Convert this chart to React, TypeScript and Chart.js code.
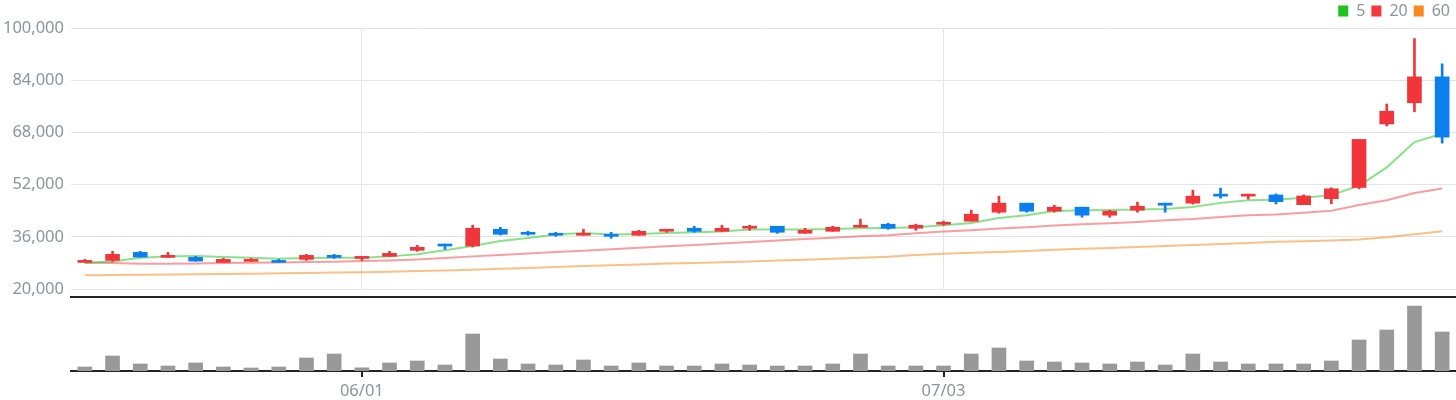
import React, { useEffect, useRef } from 'react';
import { Chart, registerables } from 'chart.js';

Chart.register(...registerables);

// ---------- data ----------
const dates = [
  '05/17', '05/18', '05/19', '05/22', '05/23', '05/24', '05/25', '05/26', '05/30', '05/31',
  '06/01', '06/02', '06/05', '06/07', '06/08', '06/09', '06/12', '06/13', '06/14', '06/15',
  '06/16', '06/19', '06/20', '06/21', '06/22', '06/23', '06/26', '06/27', '06/28', '06/29',
  '06/30', '07/03', '07/04', '07/05', '07/06', '07/07', '07/10', '07/11', '07/12', '07/13',
  '07/14', '07/17', '07/18', '07/19', '07/20', '07/21', '07/24', '07/25', '07/26', '07/27',
];

const opens = [
  28150, 28770, 31230, 29690, 29690, 28150, 28460, 28770, 29080, 30310,
  29380, 30000, 31850, 33770, 33170, 38310, 37390, 37080, 36460, 36770,
  36460, 37690, 38620, 37690, 38620, 39230, 37080, 37690, 38920, 39850,
  38620, 39850, 40770, 43540, 46310, 43850, 45080, 42620, 44150, 46310,
  46310, 49080, 48460, 48830, 45850, 47690, 51110, 70590, 77080, 85020,
];
const highs = [
  29080, 31540, 31540, 31230, 30000, 29380, 29380, 29080, 30620, 30620,
  30000, 31540, 33390, 33770, 39540, 38920, 37690, 37390, 38310, 37390,
  38000, 38310, 39230, 39540, 39540, 39230, 38620, 39230, 41390, 40150,
  39850, 40770, 44150, 48460, 46310, 45690, 45080, 44150, 46620, 46310,
  50310, 50920, 49080, 49140, 48830, 51020, 65850, 76680, 96770, 89020,
];
const lows = [
  28150, 28460, 29790, 29690, 28550, 28150, 28460, 28150, 28770, 29380,
  28770, 30000, 31540, 32150, 32860, 36550, 36460, 36150, 36460, 35540,
  36460, 37390, 37390, 37690, 38000, 37080, 37080, 37690, 38920, 38310,
  38000, 39540, 40770, 43230, 43540, 43540, 42000, 42000, 43540, 43540,
  46000, 47850, 47540, 46060, 45850, 46150, 50710, 69970, 74310, 64710,
];
const closes = [
  28770, 30620, 29790, 30310, 28550, 29080, 29080, 28150, 30310, 29690,
  30000, 30920, 32770, 33170, 38620, 36770, 36770, 36460, 37080, 36150,
  37690, 38310, 37690, 38620, 39230, 37390, 38000, 38920, 39540, 38620,
  39540, 40460, 42920, 46310, 43850, 45080, 42620, 43850, 45380, 45690,
  48460, 48460, 49080, 46770, 48520, 50710, 65850, 74490, 85020, 66550,
];

const ma5 = [
  27940, 28460, 29600, 30000, 30090, 29790, 29600, 29290, 29480, 29600,
  29600, 30000, 30620, 31850, 33170, 34710, 35630, 36680, 37170, 36680,
  36860, 37170, 37390, 37600, 38220, 38220, 38220, 38400, 38620, 38710,
  38920, 39540, 40250, 41790, 42620, 43940, 44150, 44250, 44370, 44550,
  45170, 46400, 47230, 47390, 48000, 48770, 51630, 57290, 65020, 67600,
];
const ma20 = [
  28150, 27940, 27750, 27750, 27850, 27940, 28060, 28150, 28250, 28370,
  28550, 28770, 29080, 29480, 30000, 30430, 30860, 31320, 31750, 32190,
  32620, 33080, 33510, 33940, 34400, 34830, 35290, 35720, 36150, 36460,
  37080, 37600, 38000, 38520, 38920, 39450, 39850, 40150, 40550, 41080,
  41480, 42090, 42620, 42860, 43390, 44000, 45750, 47200, 49450, 50800,
];
const ma60 = [
  24250, 24280, 24370, 24460, 24520, 24620, 24710, 24800, 24920, 25020,
  25140, 25290, 25480, 25690, 25910, 26220, 26460, 26710, 27020, 27290,
  27540, 27780, 28000, 28220, 28460, 28710, 28980, 29290, 29600, 29910,
  30400, 30830, 31140, 31320, 31630, 32060, 32370, 32550, 32860, 33170,
  33480, 33780, 34090, 34520, 34620, 34860, 35170, 35850, 36770, 37690,
];

const volumes = [
  120000, 450000, 210000, 150000, 240000, 120000, 90000, 120000, 390000, 510000,
  95000, 240000, 300000, 180000, 1110000, 360000, 210000, 180000, 330000, 150000,
  240000, 150000, 150000, 210000, 180000, 150000, 150000, 210000, 510000, 150000,
  150000, 150000, 510000, 690000, 300000, 270000, 240000, 210000, 270000, 180000,
  510000, 270000, 210000, 210000, 210000, 300000, 930000, 1230000, 1950000, 1170000,
];

const yTicks = [20000, 36000, 52000, 68000, 84000, 100000];
const xTickLabels = ['06/01', '07/03'];
const maLabels = ['5', '20', '60'];
const volumeMax = 2220000;

// ---------- styles ----------
const UP = '#f0353b';
const DOWN = '#0b7ef0';
const LEGEND_COLORS = ['#1ec31e', '#f2383d', '#f68a1e'];
const LINE_COLORS = ['rgba(40,200,40,0.55)', 'rgba(245,60,65,0.5)', 'rgba(247,140,35,0.55)'];
const TEXT = '#8c949e';
const GRID = '#e4e4e4';
const AXIS = '#222222';
const VOL = '#999999';
const FONT = "'Noto Sans', sans-serif";
const Y_AXIS_WIDTH = 71;

const legendHeight = (h: number) => ({
  id: 'legendHeight',
  beforeLayout(chart: any) {
    const lg = chart.legend;
    if (lg && !lg.__patched) {
      const orig = lg.fit;
      lg.fit = function () {
        orig.call(this);
        this.height = h;
      };
      lg.__patched = true;
    }
  },
});

const keepXTicks = (s: any) => {
  s.ticks = s.ticks.filter((t: any) => xTickLabels.includes(dates[t.value]));
};

export default function App() {
  const priceRef = useRef<HTMLCanvasElement>(null);
  const volRef = useRef<HTMLCanvasElement>(null);

  useEffect(() => {
    Chart.defaults.font.family = FONT;
    const candleColors = closes.map((c, i) => (c >= opens[i] ? UP : DOWN));

    const price = new Chart(priceRef.current as HTMLCanvasElement, {
      type: 'bar',
      data: {
        labels: dates,
        datasets: [
          {
            type: 'bar',
            label: 'body',
            data: opens.map((o, i) => [o, closes[i]]),
            backgroundColor: candleColors,
            barThickness: 14,
            grouped: false,
            minBarLength: 2,
            order: 1,
          } as any,
          {
            type: 'bar',
            label: 'wick',
            data: lows.map((l, i) => [l, highs[i]]),
            backgroundColor: candleColors,
            barThickness: 2,
            grouped: false,
            order: 2,
          } as any,
          {
            type: 'line',
            label: maLabels[0],
            data: ma5,
            borderColor: LINE_COLORS[0],
            backgroundColor: LEGEND_COLORS[0],
            borderWidth: 2,
            pointRadius: 0,
            order: 3,
          } as any,
          {
            type: 'line',
            label: maLabels[1],
            data: ma20,
            borderColor: LINE_COLORS[1],
            backgroundColor: LEGEND_COLORS[1],
            borderWidth: 2,
            pointRadius: 0,
            order: 4,
          } as any,
          {
            type: 'line',
            label: maLabels[2],
            data: ma60,
            borderColor: LINE_COLORS[2],
            backgroundColor: LEGEND_COLORS[2],
            borderWidth: 2,
            pointRadius: 0,
            order: 5,
          } as any,
        ],
      },
      options: {
        responsive: false,
        animation: false,
        layout: { padding: { top: -3, left: 0, right: 0, bottom: 0 } },
        plugins: {
          legend: {
            display: true,
            position: 'top',
            align: 'end',
            labels: {
              boxWidth: 10,
              boxHeight: 11,
              padding: 6,
              color: TEXT,
              font: { size: 16, family: FONT },
              generateLabels: () =>
                maLabels.map((t, i) => ({
                  text: t,
                  fillStyle: LEGEND_COLORS[i],
                  strokeStyle: LEGEND_COLORS[i],
                  lineWidth: 0,
                  hidden: false,
                  datasetIndex: i + 2,
                  fontColor: TEXT,
                })),
            },
          },
          tooltip: { enabled: false },
        },
        scales: {
          x: {
            type: 'category',
            offset: true,
            grid: { display: true, offset: false, color: GRID, drawTicks: false, lineWidth: 1 },
            border: { display: false },
            ticks: { display: false, autoSkip: false },
            afterBuildTicks: keepXTicks,
            afterFit: (s: any) => {
              s.height = 11;
            },
          },
          y: {
            min: yTicks[0],
            max: yTicks[yTicks.length - 1],
            afterBuildTicks: (s: any) => {
              s.ticks = yTicks.map((v) => ({ value: v }));
            },
            grid: { color: GRID, drawTicks: false, lineWidth: 1 },
            border: { display: false },
            ticks: {
              color: TEXT,
              font: { size: 16.5, family: FONT },
              padding: 7,
              callback: (v: any) => Number(v).toLocaleString('en-US'),
            },
            afterFit: (s: any) => {
              s.width = Y_AXIS_WIDTH;
              s.paddingTop = 0;
              s.paddingBottom = 0;
            },
          },
        },
      } as any,
      plugins: [legendHeight(31)],
    });

    const vol = new Chart(volRef.current as HTMLCanvasElement, {
      type: 'bar',
      data: {
        labels: dates,
        datasets: [
          {
            label: 'volume',
            data: volumes,
            backgroundColor: VOL,
            barThickness: 14,
            xAxisID: 'x',
            yAxisID: 'y',
          },
        ],
      },
      options: {
        responsive: false,
        animation: false,
        layout: { padding: 0 },
        plugins: { legend: { display: false }, tooltip: { enabled: false } },
        scales: {
          x: {
            type: 'category',
            position: 'bottom',
            offset: true,
            grid: {
              display: true,
              drawOnChartArea: false,
              drawTicks: true,
              tickLength: 6,
              color: AXIS,
              lineWidth: 2,
              offset: false,
            },
            border: { display: true, color: AXIS, width: 2 },
            ticks: {
              color: TEXT,
              font: { size: 16.5, family: FONT },
              padding: 4,
              autoSkip: false,
              maxRotation: 0,
            },
            afterBuildTicks: keepXTicks,
            afterFit: (s: any) => {
              s.height = 29;
            },
          },
          xTop: {
            type: 'category',
            position: 'top',
            labels: dates,
            offset: true,
            grid: { display: true, drawOnChartArea: false, drawTicks: false },
            border: { display: true, color: AXIS, width: 2 },
            ticks: { display: false },
            afterFit: (s: any) => {
              s.height = 7;
            },
          },
          y: {
            min: 0,
            max: volumeMax,
            display: true,
            grid: { display: false },
            border: { display: false },
            ticks: { display: false },
            afterFit: (s: any) => {
              s.width = Y_AXIS_WIDTH;
              s.paddingTop = 0;
              s.paddingBottom = 0;
            },
          },
        },
      } as any,
    });

    return () => {
      price.destroy();
      vol.destroy();
    };
  }, []);

  return (
    <div style={{ position: 'absolute', left: 0, top: 0, width: 1456, height: 400, background: '#ffffff' }}>
      <canvas
        ref={priceRef}
        width={1456}
        height={300}
        style={{ position: 'absolute', left: 0, top: 0, display: 'block' }}
      />
      <canvas
        ref={volRef}
        width={1456}
        height={110}
        style={{ position: 'absolute', left: 0, top: 290, display: 'block' }}
      />
    </div>
  );
}
